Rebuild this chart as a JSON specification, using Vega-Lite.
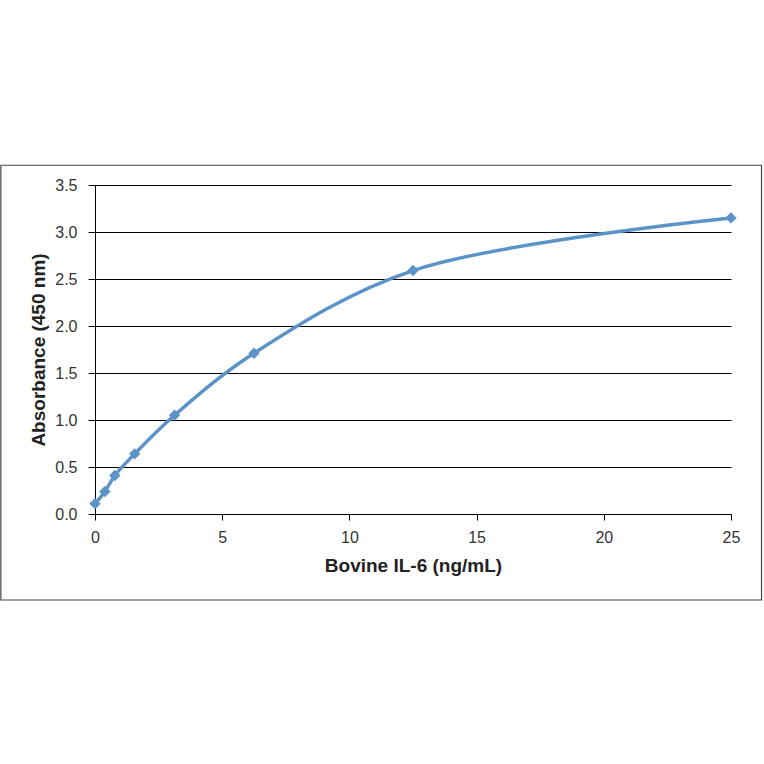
{
  "$schema": "https://vega.github.io/schema/vega-lite/v6.json",
  "width": 636,
  "height": 329,
  "autosize": "none",
  "padding": {"left": 95, "top": 185, "right": 33, "bottom": 250},
  "background": "white",
  "config": {
    "font": "Liberation Sans",
    "view": {"stroke": null},
    "axis": {
      "domainColor": "#000000",
      "tickColor": "#000000",
      "labelColor": "#333333",
      "titleColor": "#222222",
      "labelFont": "Liberation Sans",
      "titleFont": "Liberation Sans",
      "labelFontSize": 16,
      "titleFontSize": 19,
      "titleFontWeight": "bold",
      "labelFlush": false
    }
  },
  "data": {
    "values": [
      {"conc": 0, "abs": 0.11},
      {"conc": 0.39, "abs": 0.24},
      {"conc": 0.78, "abs": 0.41},
      {"conc": 1.56, "abs": 0.64},
      {"conc": 3.125, "abs": 1.05},
      {"conc": 6.25, "abs": 1.71},
      {"conc": 12.5, "abs": 2.59},
      {"conc": 25, "abs": 3.15}
    ]
  },
  "layer": [
    {
      "data": {"values": [{"x0": -3.7, "x1": 26.2, "y0": -0.915, "y1": 3.71}]},
      "mark": {"type": "rect", "fill": null, "stroke": "#444444", "strokeWidth": 1.2, "clip": false},
      "encoding": {
        "x": {"field": "x0", "type": "quantitative", "scale": {"domain": [0, 25]}},
        "x2": {"field": "x1"},
        "y": {"field": "y0", "type": "quantitative", "scale": {"domain": [0, 3.5]}},
        "y2": {"field": "y1"}
      }
    },
    {
      "mark": {"type": "line", "interpolate": "catmull-rom", "color": "#5b93c9", "strokeWidth": 3.5},
      "encoding": {
        "x": {
          "field": "conc", "type": "quantitative",
          "title": "Bovine IL-6 (ng/mL)",
          "scale": {"domain": [0, 25], "nice": false},
          "axis": {"values": [0, 5, 10, 15, 20, 25], "grid": false, "tickSize": 6, "labelPadding": 9, "titlePadding": 11, "domainWidth": 1}
        },
        "y": {
          "field": "abs", "type": "quantitative",
          "title": "Absorbance  (450 nm)",
          "scale": {"domain": [0, 3.5], "nice": false},
          "axis": {"values": [0, 0.5, 1, 1.5, 2, 2.5, 3, 3.5], "format": ".1f", "grid": true, "gridColor": "#000000", "gridOpacity": 1, "gridWidth": 1, "tickSize": 7, "labelPadding": 11, "titlePadding": 6}
        }
      }
    },
    {
      "mark": {"type": "point", "shape": "diamond", "filled": true, "color": "#5b93c9", "size": 130, "opacity": 1},
      "encoding": {
        "x": {"field": "conc", "type": "quantitative"},
        "y": {"field": "abs", "type": "quantitative"}
      }
    }
  ]
}
